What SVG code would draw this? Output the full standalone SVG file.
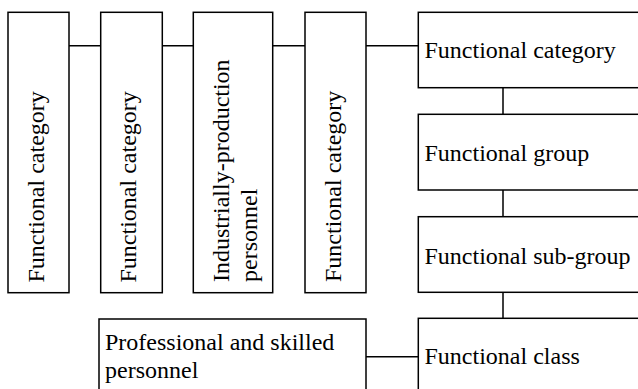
<svg xmlns="http://www.w3.org/2000/svg" width="638" height="389" viewBox="0 0 638 389">
<style>
.box{fill:#fff;stroke:#000;stroke-width:1.5}
.ln{stroke:#000;stroke-width:1.5;fill:none}
.t{font-family:'Liberation Serif','Times New Roman',serif;font-size:24px;fill:#000}
</style>
<rect width="638" height="389" fill="#fff"/>
<g id="connectors">
<path class="ln" d="M69 45.7H101M162.3 45.7H193.3M272.7 45.7H305M366 45.7H418.3"/>
<path class="ln" d="M503 87.7V114.3M503 190V216.7M503 292.3V318.3"/>
<path class="ln" d="M366 356.7H418.3"/>
</g>
<g id="v1"><rect class="box" x="8" y="12.3" width="61" height="280.4"/><text class="t" transform="translate(44,282.5) rotate(-90)">Functional category</text></g>
<g id="v2"><rect class="box" x="100.7" y="12.3" width="61.6" height="280.4"/><text class="t" transform="translate(135.5,282.5) rotate(-90)">Functional category</text></g>
<g id="v3"><rect class="box" x="193.3" y="12.3" width="79.4" height="280.4"/><text class="t" transform="translate(229,282) rotate(-90)">Industrially-production<tspan x="0" dy="28">personnel</tspan></text></g>
<g id="v4"><rect class="box" x="305" y="12.3" width="61" height="280.4"/><text class="t" transform="translate(340.5,282) rotate(-90)">Functional category</text></g>
<g id="r1"><rect class="box" x="418.3" y="12.3" width="230" height="75.4"/><text class="t" x="424.5" y="58">Functional category</text></g>
<g id="r2"><rect class="box" x="418.3" y="114.3" width="230" height="75.7"/><text class="t" x="424.5" y="161">Functional group</text></g>
<g id="r3"><rect class="box" x="418.3" y="216.7" width="230" height="75.6"/><text class="t" x="424.5" y="263.5">Functional sub-group</text></g>
<g id="r4"><rect class="box" x="418.3" y="318.3" width="230" height="80"/><text class="t" x="424.5" y="363.5">Functional class</text></g>
<g id="prof"><rect class="box" x="99" y="319" width="267" height="80"/><text class="t" x="105" y="350">Professional and skilled<tspan x="105" dy="28">personnel</tspan></text></g>
</svg>
